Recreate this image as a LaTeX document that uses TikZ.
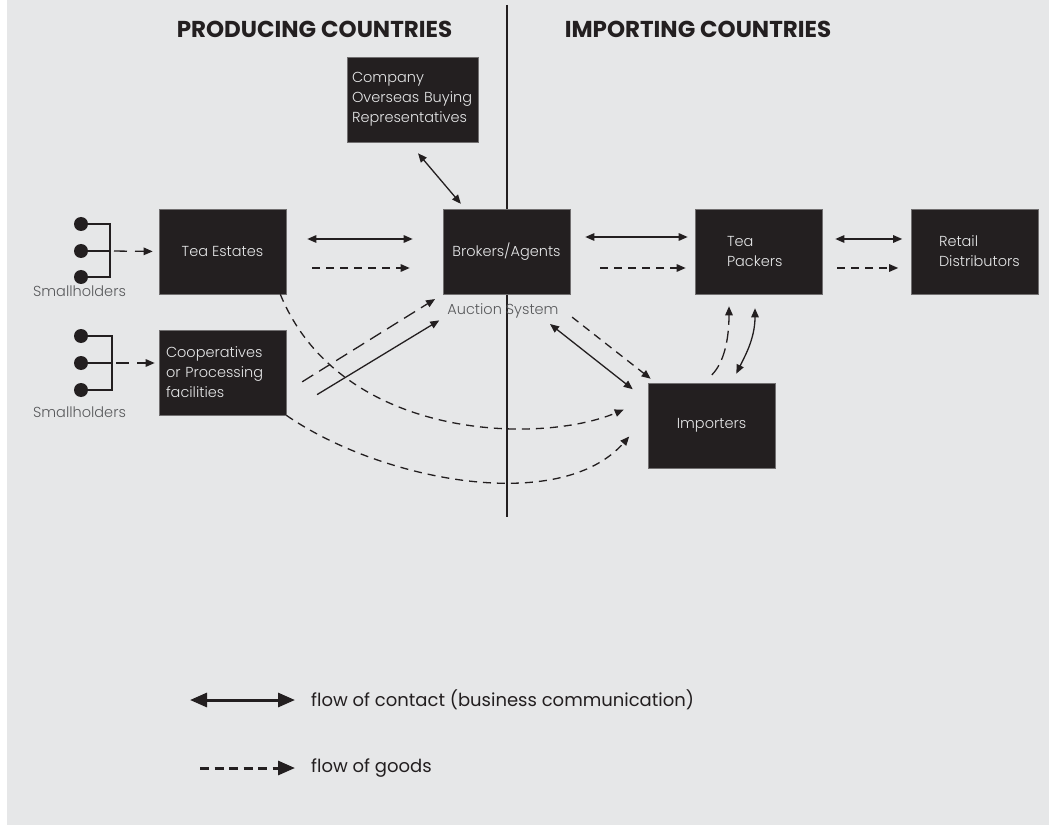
\documentclass[tikz,border=0pt]{standalone}
\usepackage{fontspec}
\setmainfont{Poppins}[UprightFont=* Light, BoldFont=* Bold]
\newfontfamily\legendfont{Poppins}
\usetikzlibrary{arrows.meta}
\definecolor{bgc}{HTML}{E6E7E8}
\definecolor{ink}{HTML}{231F20}
\definecolor{soft}{HTML}{58595B}
\begin{document}
\begin{tikzpicture}
      [x=1pt, y=-1pt, auto,
       >={Triangle[length=9pt,width=7.5pt]},
       every node/.style={font=\fontsize{14.5}{20}\selectfont},
       box/.style={fill=ink, draw=ink!60!bgc, line width=0.6pt, text=bgc, minimum width=127pt, minimum height=85pt, inner sep=0pt},
       contact/.style={ink, line width=1.3pt},
       goods/.style={contact, dash pattern=on 8pt off 6pt},
       holder/.style={circle, fill=ink, minimum size=14pt, inner sep=0pt},
       head/.style={font=\bfseries\fontsize{23}{26}\selectfont, text=ink},
       legend/.style={font=\legendfont\fontsize{18}{21}\selectfont, text=ink, anchor=west, inner sep=0pt}]
      \useasboundingbox (0,0) rectangle (1049,826);
      \fill[bgc] (7,0) rectangle (1049,825);
      \draw[contact] (507,5) -- (507,517);
      \node[head](prod) at (314.5, 29) {PRODUCING COUNTRIES};
      \node[head](impc) at (698, 29) {IMPORTING COUNTRIES};
      \node[box, align=left, text width=121pt, minimum width=131pt](comp) at (412.5, 99.5) {Company\\Overseas Buying\\Representatives};
      \node[box](est) at (222.5, 251.5) {Tea Estates};
      \node[box, align=left, text width=113pt](coop) at (222.5, 372.5) {Cooperatives\\or Processing\\facilities};
      \node[box](brk) at (506.5, 251.5) {Brokers/Agents};
      \node[box, align=left, text width=63pt](pack) at (758.5, 251.5) {Tea\\Packers};
      \node[box, align=left, text width=72pt](ret) at (975, 251.5) {Retail\\Distributors};
      \node[box](imp) at (711.5, 425.5) {Importers};
      \node[text=soft](auc) at (503, 311) {Auction System};
      % smallholders
      \foreach \y/\n in {224/a, 251/b, 277/c} \node[holder](h1\n) at (81, \y) {};
      \foreach \y/\n in {336/a, 363/b, 390/c} \node[holder](h2\n) at (81, \y) {};
      \node[text=soft](sl1) at (79.5, 291) {Smallholders};
      \node[text=soft](sl2) at (79.5, 412) {Smallholders};
      \coordinate(j1) at (110, 251);
      \coordinate(j2) at (112, 363);
      \draw[contact](h1a.center) -| (j1) |- (h1c.center);
      \draw[contact](h1b.center) -- (j1);
      \draw[contact](h2a.center) -| (j2) |- (h2c.center);
      \draw[contact](h2b.center) -- (j2);
      \draw[->, goods, dash pattern=on 13pt off 8pt, shorten <=4pt, shorten >=6pt](j1) -- (est.west);
      \draw[->, goods, dash pattern=on 13pt off 8pt, shorten <=4pt, shorten >=4pt](j2) -- ([yshift=9.5pt]coop.west);
      % top row
      \draw[<->, contact, shorten <=21pt, shorten >=30pt]([yshift=12.5pt]est.east) -- ([yshift=12.5pt]brk.west);
      \draw[->, goods, shorten <=26pt, shorten >=33pt]([yshift=-16.5pt]est.east) -- ([yshift=-16.5pt]brk.west);
      \draw[<->, contact, shorten <=15pt, shorten >=7pt]([yshift=14.5pt]brk.east) -- ([yshift=14.5pt]pack.west);
      \draw[->, goods, shorten <=30pt, shorten >=9pt]([yshift=-16.5pt]brk.east) -- ([yshift=-16.5pt]pack.west);
      \draw[<->, contact, shorten <=13pt, shorten >=9pt]([yshift=12.5pt]pack.east) -- ([yshift=12.5pt]ret.west);
      \draw[->, goods, shorten <=15pt, shorten >=13pt]([yshift=-16.5pt]pack.east) -- ([yshift=-16.5pt]ret.west);
      \draw[<->, contact, shorten <=14.4pt, shorten >=6.4pt]([xshift=-3.8pt]comp.south) -- ([xshift=-41.5pt]brk.north);
      % to brokers and importers
      \draw[->, goods, dash pattern=on 13pt off 7pt, shorten <=18.7pt, shorten >=9pt]([yshift=-19.2pt]coop.east) -- (brk.south west);
      \draw[->, contact, shorten <=36pt, shorten >=4pt]([yshift=2pt]coop.south east) -- ([yshift=-24pt]brk.south west);
      \draw[<->, contact, shorten <=48pt, shorten >=19pt]([xshift=5.8pt]brk.south) -- ([yshift=24.5pt]imp.west);
      \draw[->, goods, shorten <=37pt, shorten >=6.4pt]([xshift=36.5pt]brk.south) -- ([xshift=8pt]imp.north west);
      \draw[->, goods, shorten >=26pt]([xshift=-6pt]est.south east) .. controls +(60,146) and +(-108,45.5) .. ([yshift=26pt]imp.west);
      \draw[->, goods, shorten >=28pt](coop.south east) .. controls +(94,65) and +(-88,100) .. ([yshift=10pt]imp.west);
      \draw[->, goods, dash pattern=on 12pt off 6pt, shorten <=11pt, shorten >=12pt]([xshift=-7.5pt]imp.north) .. controls +(20,-20) and +(0,45) .. ([xshift=-29.5pt]pack.south);
      \draw[<->, contact, shorten <=14pt, shorten >=10pt]([xshift=-3.5pt]pack.south) .. controls +(0,45) and +(12,-25) .. ([xshift=20.5pt]imp.north);
      % legend
      \coordinate(c1) at (190, 700);
      \coordinate(c2) at (200, 768);
      \node[legend](leg1) at (311, 700) {flow of contact (business communication)};
      \node[legend](leg2) at (311, 768) {flow of goods};
      \draw[<->, contact, line width=3pt, >={Triangle[length=17pt,width=14pt]}, shorten >=16pt](c1) -- (leg1.west);
      \draw[->, goods, line width=3pt, dash pattern=on 9pt off 5.5pt, >={Triangle[length=17pt,width=14pt]}, shorten >=16pt](c2) -- (leg2.west);
  \end{tikzpicture}
\end{document}
